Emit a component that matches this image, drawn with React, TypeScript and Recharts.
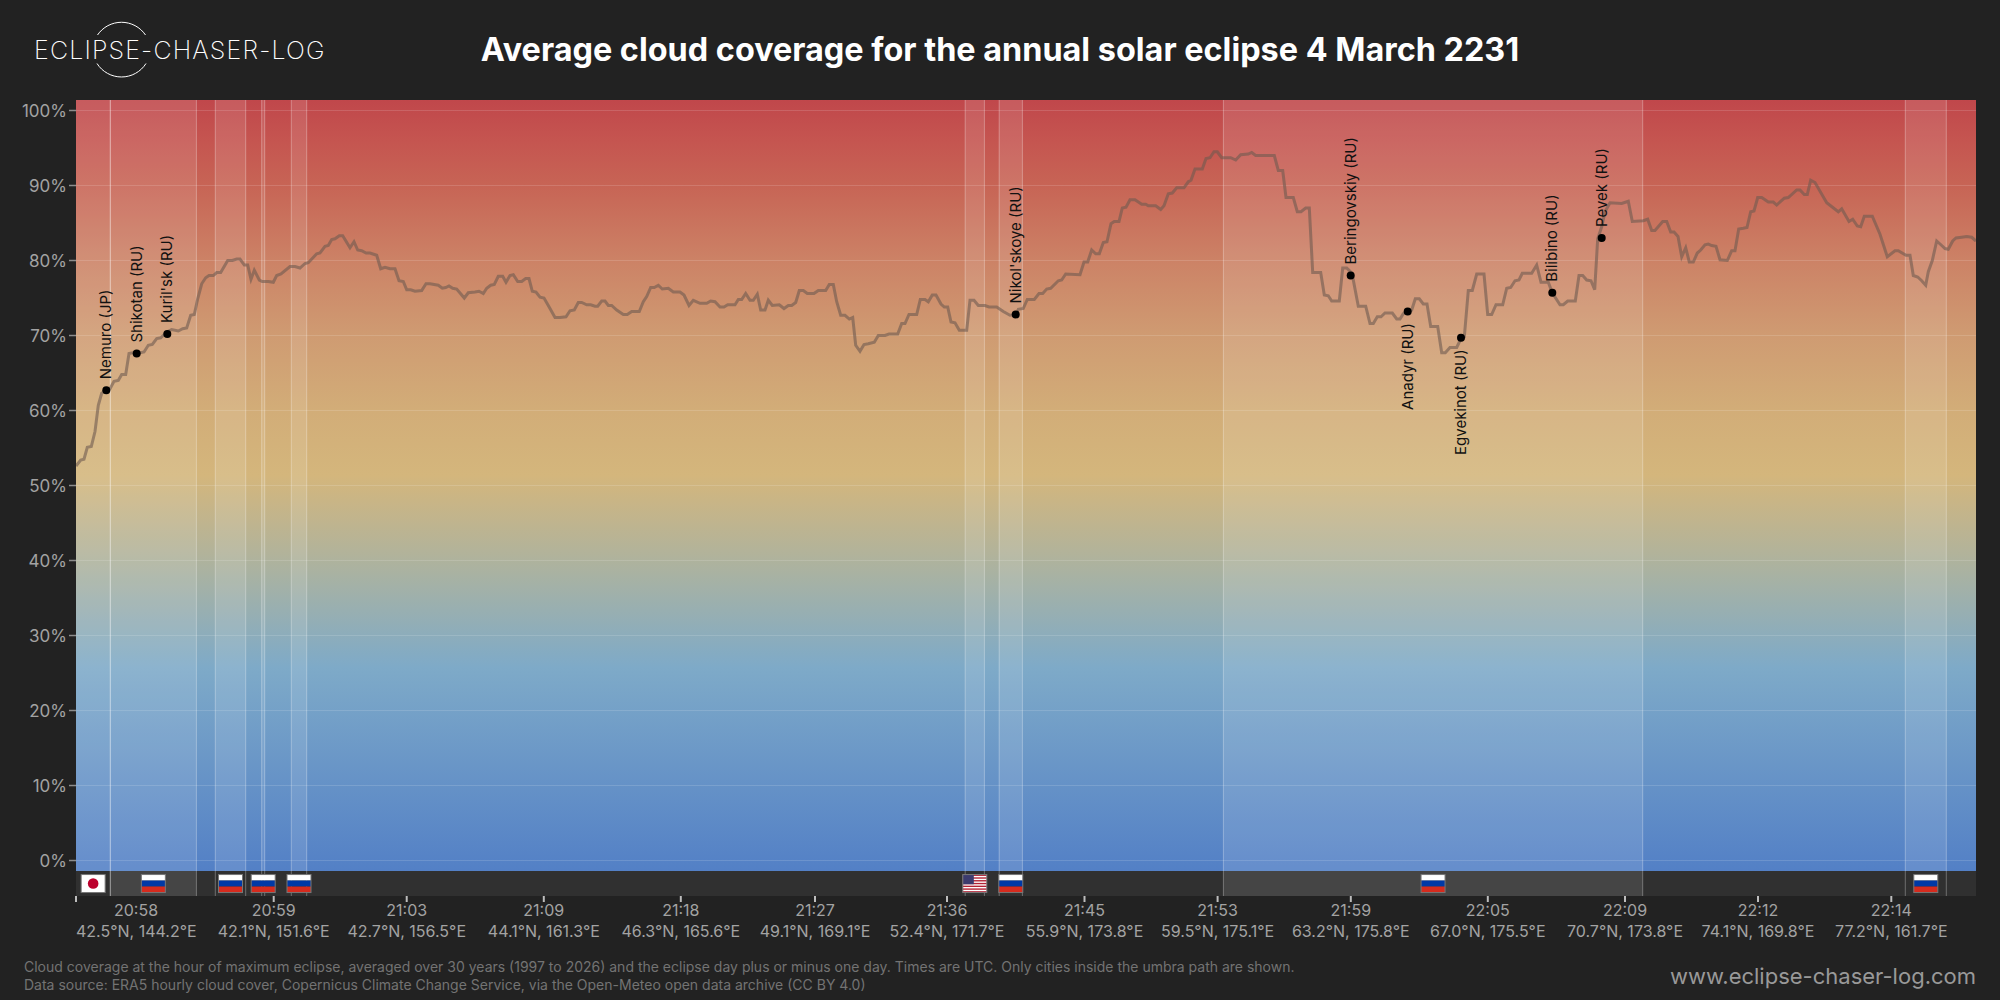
import {
  ComposedChart,
  Line,
  Scatter,
  XAxis,
  YAxis,
  ReferenceArea,
  ReferenceLine,
  ReferenceDot,
} from 'recharts';

const FONT = 'Inter, sans-serif';

// position along the eclipse track (axis units), and the cloud cover read there
const trackPos = [
  0, 4.7, 8, 11.3, 15.3, 19, 22.3, 25.7, 30.3, 34, 38, 42.3, 45.7, 49.7, 53, 56.7, 60.7, 68, 72.3, 76.3,
  80.7, 84.7, 91.3, 95.7, 102.3, 106.7, 110.7, 114.7, 118.3, 121.7, 125.7, 129.7, 133, 137.3, 140.7, 144.7,
  151.7, 156.3, 160.7, 164, 168.3, 171.7, 175, 178.3, 183.3, 186.3, 192.3, 197.3, 200.7, 205, 214, 219,
  224, 229, 232.3, 240.7, 244, 249, 252.3, 255.7, 259, 263.3, 266.7, 274, 278, 281.7, 285.7, 290, 294,
  300.7, 304.7, 309, 314, 319, 323, 327.3, 330.7, 334.7, 339, 345.7, 350, 354, 362.3, 366.3, 369.7, 373,
  376.7, 380.7, 388.3, 392.3, 399, 403, 407.3, 410.7, 414.7, 418.3, 422.3, 426.7, 430, 434, 437.3, 441.7,
  445.7, 449.7, 453, 456.3, 460, 464, 468, 474, 479, 484, 490, 494, 498.3, 502.3, 505.7, 510.7, 514.7,
  519, 521.7, 525.7, 529, 532.3, 535.7, 540.7, 547.3, 551.3, 555.7, 563.3, 567.3, 570.7, 574.7, 578.3,
  582.3, 586.3, 592.3, 597.3, 604, 608, 613, 617.3, 624, 630.7, 634.7, 639, 644, 648, 651.7, 659, 662.3,
  665.7, 669.7, 674, 677.3, 681.3, 684.7, 689, 692.3, 696.3, 703.3, 708, 712.3, 715.7, 719.7, 723.3, 727.3,
  731.3, 738, 742.3, 749.7, 753.3, 757.3, 760.7, 764.7, 769, 773.3, 776.7, 779.7, 784, 788, 792.3, 798.3,
  802.3, 809, 813, 821.7, 825.7, 829, 833, 840.7, 844.3, 849, 852.3, 856.3, 860, 865, 868.3, 871.7, 875,
  879, 883.3, 890.7, 894, 898, 902.3, 909, 913, 920.7, 927.3, 934, 940, 942.3, 947.3, 951.3, 958.3, 963,
  966.7, 970.7, 974.7, 982.3, 985.7, 989.7, 1004, 1008, 1011.7, 1015.7, 1019.7, 1023.3, 1027.3, 1031, 1035,
  1038.3, 1043, 1046.3, 1050, 1054, 1059, 1065.7, 1069.7, 1072.3, 1079.7, 1084.7, 1088, 1092.3, 1096.3,
  1100.7, 1108, 1112.3, 1115, 1119, 1126.3, 1130, 1134, 1138, 1141.3, 1145.7, 1154.7, 1159.7, 1164.7,
  1172.3, 1175.7, 1179.7, 1189.7, 1198.3, 1202.3, 1206.7, 1210, 1217.3, 1221.3, 1225, 1229.7, 1233.3,
  1236.7, 1244.7, 1248.3, 1252.3, 1255.7, 1263.3, 1266.7, 1270.7, 1276, 1282.3, 1289.7, 1294, 1297.3,
  1301.3, 1305, 1309, 1316.3, 1320.7, 1324, 1327.3, 1331.7, 1335.7, 1339.3, 1343.3, 1347.3, 1351, 1354.7,
  1361.7, 1365.7, 1369.3, 1374, 1380.7, 1385, 1388.3, 1392.3, 1396.3, 1400.7, 1408, 1411.7, 1415.7, 1420,
  1426.7, 1430.7, 1434.7, 1439, 1443, 1446.3, 1455.7, 1460.7, 1465, 1472.3, 1476.3, 1484, 1487.3, 1491.7,
  1499.3, 1503, 1506.7, 1510.7, 1515, 1518.7, 1521.7, 1525.7, 1529, 1534, 1545.7, 1552.3, 1556.3, 1567.3,
  1571.7, 1575.7, 1579, 1586.7, 1590.7, 1594.7, 1598, 1602, 1605.7, 1609.7, 1613.3, 1617.3, 1621.3, 1624.7,
  1629, 1632.3, 1635.7, 1640, 1644, 1651.3, 1655.7, 1659, 1662.7, 1667.3, 1671, 1674.7, 1678, 1681.7,
  1685.7, 1692.3, 1697.3, 1700.7, 1708.3, 1712.3, 1720.7, 1724, 1728.3, 1731.3, 1734.7, 1739, 1750.7,
  1762.3, 1765.7, 1773, 1776.7, 1781.3, 1784.7, 1788.3, 1796.3, 1804, 1811.3, 1819, 1822.3, 1830, 1834,
  1837.3, 1841.7, 1845.7, 1849.7, 1852.3, 1856.3, 1860.7, 1865.7, 1869, 1872.3, 1876.7, 1880, 1885.7,
  1890.7, 1895.7, 1900,
];

const cloudCover = [
  52.6, 53.4, 53.5, 55.1, 55.2, 57.2, 60.7, 62.3, 62.7, 62.9, 63.9, 64, 64.8, 64.8, 67.6, 67.7, 67.6, 67.8, 68.7, 68.8,
  69.6, 69.7, 70.5, 70.8, 70.6, 70.9, 71, 72.7, 72.8, 74.9, 76.9, 77.7, 78, 78, 78.4, 78.4,
  80, 80, 80.2, 80.2, 79.4, 79.4, 77.5, 78.7, 77.4, 77.2, 77.2, 77.1, 78, 78.2, 79.2, 79.2,
  79, 79.6, 79.7, 80.9, 81, 81.9, 82, 82.8, 82.9, 83.3, 83.3, 81.7, 82.5, 81.4, 81.3, 81, 81,
  80.7, 78.9, 79.1, 78.9, 78.9, 77.3, 77.2, 76.1, 76.1, 75.9, 76, 76.9, 76.9, 76.7, 76.3, 76.4, 76.6,
  76.3, 76.2, 75, 75.7, 75.8, 75.9, 75.6, 76.3, 76.7, 76.8, 77.9, 77.9, 77.1, 78, 78.1, 77.2,
  77.2, 77.6, 77.6, 75.9, 75.8, 75.1, 75, 73.6, 72.4, 72.4, 72.5, 73.3, 73.4, 74.4, 74.4, 74.1, 74.1,
  73.9, 73.9, 74.6, 74.6, 74, 74, 73.4, 72.8, 72.8, 73.2, 73.2, 74.5, 75.2, 76.4, 76.4,
  76.7, 76.2, 76.3, 75.8, 75.8, 75.4, 74, 74.7, 74.3, 74.3, 74.6, 74.5, 73.8, 73.8, 74.1, 74.1, 74.8,
  74.8, 75.6, 74.7, 74.7, 75.5, 73.4, 73.4, 74.7, 74, 74.1, 73.6, 74, 74, 74.4, 76, 76,
  75.6, 75.6, 76, 76, 76.8, 76.8, 74.5, 72.7, 72.7, 72.2, 72.4, 68.7, 67.9, 68.8, 68.9, 69.1,
  70, 70, 70.2, 70.2, 71.6, 71.6, 72.8, 72.8, 74.8, 74.8, 74.5, 75.4, 75.4, 74.2, 73.8, 73.8, 71.8,
  71.7, 70.7, 70.7, 74.7, 74.7, 74, 74, 73.8, 73.8, 73.2, 72.7, 72.8, 73.5, 73.6, 74.8, 74.8, 75.6,
  75.6, 76.2, 76.3, 77.3, 77.4, 78.2, 78.1, 79.8, 79.8, 81.4, 80.9, 80.9, 82.4, 82.5, 84.9,
  85.2, 85.2, 87, 87.1, 88.1, 88.1, 87.5, 87.5, 87.3, 87.3, 86.8, 87.3, 88.9, 89,
  89.7, 89.7, 90.5, 90.7, 92.2, 92.2, 93.6, 93.7, 94.5, 94.5, 93.7, 93.7, 93.4, 94.1,
  94.2, 94.4, 94, 94, 94, 92, 92, 88.4, 88.4, 86.5, 86.5, 87, 87,
  78.4, 78.4, 75.4, 75.3, 74.6, 74.6, 79, 79, 78.3, 73.9, 73.9, 71.6, 71.6,
  72.5, 72.5, 73, 73, 72.2, 72.2, 72.9, 73.2, 73.4, 74.9, 74.9, 74.2, 74.2, 71.2,
  71.2, 67.7, 67.7, 68.4, 68.4, 69.6, 69.8, 76, 76, 78.2, 78.2, 72.8, 72.8, 74.1,
  74.1, 76.3, 76.4, 77.3, 77.4, 78.3, 78.3, 79.4, 77.1, 77.1, 75.7, 74.1, 74.1, 74.6,
  74.6, 78, 78, 77.4, 77.3, 76.1, 82.9, 84.5, 86.5, 87.7, 87.6, 87.9, 85.2, 85.3,
  85.5, 84, 84, 85.2, 85.2, 83.8, 83.8, 83.2, 80.5, 81.7, 79.8, 79.8, 81, 81.4,
  82.1, 82.2, 82, 81.9, 80.1, 80, 81.3, 81.3, 84.2, 84.3, 84.4, 86.5, 86.6, 88.4,
  88.4, 87.8, 87.8, 87.4, 88.3, 88.4, 89.4, 89.4, 88.8, 88.8, 90.7, 90.4, 87.7,
  86.5, 86.9, 85.2, 85.5, 84.6, 84.5, 85.9, 85.9, 83.5, 80.5, 81.3, 81.3, 80.7, 80.7,
  78, 77.8, 77.3, 76.7, 78.5, 80, 82.6, 82, 81.6, 81.5, 82.6, 83, 83.1,
  83.2, 83.1, 82.6,
];

const cityNames = ['Nemuro (JP)', 'Shikotan (RU)', "Kuril'sk (RU)", "Nikol'skoye (RU)", 'Beringovskiy (RU)', 'Anadyr (RU)', 'Egvekinot (RU)', 'Bilibino (RU)', 'Pevek (RU)'];
const cityPos = [30.3, 60.7, 91.3, 939.7, 1274.7, 1331.7, 1385, 1476.3, 1525.7];
const cityCover = [62.7, 67.6, 70.2, 72.8, 78, 73.2, 69.7, 75.7, 83];
const cityBelow = ['Anadyr (RU)', 'Egvekinot (RU)'];

// stretches of the track over land, with the country shown as a flag
const landStart = [0, 34.3, 139.3, 185.7, 215.3, 889.2, 923.2, 1147.4, 1829.3];
const landEnd = [34.3, 120.4, 169.7, 188.7, 230.7, 908.4, 946.4, 1566.7, 1870.3];
const landFlag = ['JP', 'RU', 'RU', 'RU', 'RU', 'US', 'RU', 'RU', 'RU'];
const longLand = [1, 7];

const tickPos = [0, 197.7, 330.7, 467.8, 604.8, 739, 871, 1008.5, 1141.6, 1274.8, 1411.8, 1549, 1682, 1815.3];
const tickTimes = ['20:58', '20:59', '21:03', '21:09', '21:18', '21:27', '21:36', '21:45', '21:53', '21:59', '22:05', '22:09', '22:12', '22:14'];
const tickCoords = [
  '42.5°N, 144.2°E', '42.1°N, 151.6°E', '42.7°N, 156.5°E', '44.1°N, 161.3°E', '46.3°N, 165.6°E', '49.1°N, 169.1°E', '52.4°N, 171.7°E',
  '55.9°N, 173.8°E', '59.5°N, 175.1°E', '63.2°N, 175.8°E', '67.0°N, 175.5°E', '70.7°N, 173.8°E', '74.1°N, 169.8°E', '77.2°N, 161.7°E',
];
const percentTicks = [0, 10, 20, 30, 40, 50, 60, 70, 80, 90, 100];

const rows = trackPos.map((pos, i) => ({ pos, cover: cloudCover[i] }));
const cityRows = cityNames.map((name, i) => ({ name, pos: cityPos[i], cover: cityCover[i] }));

const PLOT_TOP = 101.4;
const PLOT_BOTTOM = -1.4;
const STRIP_BOTTOM = -4.73;
const FLAG_Y = -3.07;

function XTick({ x, y, index }: any) {
  const first = index === 0;
  return (
    <g fontFamily={FONT} fontSize={16} fill="#a3a3a3" textAnchor={first ? 'start' : 'middle'}>
      <text x={first ? x + 60 : x} y={y + 12} textAnchor="middle">{tickTimes[index]}</text>
      <text x={x} y={y + 33}>{tickCoords[index]}</text>
    </g>
  );
}

function CityMark({ cx, cy, payload }: any) {
  const below = cityBelow.includes(payload.name);
  const ty = below ? cy + 11.5 : cy - 11;
  return (
    <g>
      <circle cx={cx} cy={cy} r={4} fill="#000" />
      <text
        transform={`translate(${cx + 5},${ty}) rotate(-90)`}
        textAnchor={below ? 'end' : 'start'}
        fontFamily={FONT}
        fontSize={15}
        fill="#111"
      >
        {payload.name}
      </text>
    </g>
  );
}

function Flag({ cx, cy, code }: any) {
  const x = cx - 12;
  const y = cy - 9;
  if (code === 'JP') {
    return (
      <g>
        <rect x={x} y={y} width={24} height={18} fill="#fff" stroke="#777" />
        <circle cx={cx} cy={cy} r={5.3} fill="#bc002d" />
      </g>
    );
  }
  if (code === 'US') {
    const stripes = [0, 1, 2, 3, 4, 5, 6, 7, 8, 9, 10, 11, 12];
    return (
      <g>
        <rect x={x} y={y} width={24} height={18} fill="#fff" />
        {stripes.filter((s) => s % 2 === 0).map((s) => (
          <rect key={s} x={x} y={y + (s * 18) / 13} width={24} height={18 / 13} fill="#b22234" />
        ))}
        <rect x={x} y={y} width={11} height={9.7} fill="#3c3b6e" />
        <rect x={x} y={y} width={24} height={18} fill="none" stroke="#777" />
      </g>
    );
  }
  return (
    <g>
      <rect x={x} y={y} width={24} height={6} fill="#fff" />
      <rect x={x} y={y + 6} width={24} height={6} fill="#0039a6" />
      <rect x={x} y={y + 12} width={24} height={6} fill="#d52b1e" />
      <rect x={x} y={y} width={24} height={18} fill="none" stroke="#777" />
    </g>
  );
}

function Logo() {
  return (
    <svg width={340} height={100} style={{ position: 'absolute', left: 0, top: 0 }}>
      <path d="M 97.5 35 A 29 29 0 0 1 145.5 35" fill="none" stroke="#fff" strokeWidth={1} />
      <path d="M 97 63.5 A 29 29 0 0 0 146 63.5" fill="none" stroke="#fff" strokeWidth={1} />
      <text x={34} y={59} fontFamily={FONT} fontWeight={200} fontSize={25} letterSpacing={1.15} fill="#fff">ECLIPSE-CHASER-LOG</text>
    </svg>
  );
}

export default function App() {
  return (
    <div style={{ position: 'absolute', left: 0, top: 0, width: 2000, height: 1000, background: '#222222', overflow: 'hidden' }}>
      <Logo />
      <div style={{ position: 'absolute', left: 0, width: 2000, top: 30, textAlign: 'center', fontFamily: FONT, fontWeight: 700, fontSize: 32.4, lineHeight: '40px', color: '#fff' }}>
        Average cloud coverage for the annual solar eclipse 4 March 2231
      </div>
      <ComposedChart
        width={2000}
        height={1000}
        data={rows}
        margin={{ top: 100, right: 24, bottom: 0, left: 0 }}
        style={{ position: 'absolute', left: 0, top: 0 }}
      >
        <defs>
          <linearGradient id="cloudScale" x1="0" y1="0" x2="0" y2="1">
            <stop offset="0%" stopColor="#c0474b" />
            <stop offset="5.3%" stopColor="#c55550" />
            <stop offset="11%" stopColor="#c76455" />
            <stop offset="20.8%" stopColor="#cc8266" />
            <stop offset="30.5%" stopColor="#cf9b72" />
            <stop offset="40.3%" stopColor="#d2ad78" />
            <stop offset="48.7%" stopColor="#d4b67c" />
            <stop offset="61.7%" stopColor="#a8b2a3" />
            <stop offset="73.6%" stopColor="#7eaac8" />
            <stop offset="100%" stopColor="#5380c6" />
          </linearGradient>
        </defs>
        <XAxis
          dataKey="pos"
          type="number"
          domain={[0, 1900]}
          ticks={tickPos}
          interval={0}
          allowDataOverflow
          height={104}
          axisLine={false}
          tickLine={{ stroke: '#bdbdbd', strokeWidth: 2 }}
          tickSize={6}
          tick={<XTick />}
        />
        <YAxis
          type="number"
          domain={[STRIP_BOTTOM, PLOT_TOP]}
          ticks={percentTicks}
          interval={0}
          allowDataOverflow
          width={76}
          axisLine={false}
          tickLine={{ stroke: '#8c8c8c', strokeWidth: 1.5 }}
          tickSize={7}
          tickFormatter={(v) => `${v}%`}
          tick={{ fill: '#a3a3a3', fontSize: 17, fontFamily: FONT }}
        />
        <ReferenceArea x1={0} x2={1900} y1={PLOT_BOTTOM} y2={PLOT_TOP} fill="url(#cloudScale)" fillOpacity={1} stroke="none" />
        <ReferenceArea x1={0} x2={1900} y1={STRIP_BOTTOM} y2={PLOT_BOTTOM} fill="#303030" fillOpacity={1} stroke="none" />
        {landStart.map((start, i) => (
          <ReferenceArea key={`land-${i}`} x1={start} x2={landEnd[i]} y1={PLOT_BOTTOM} y2={PLOT_TOP} fill="#fff" fillOpacity={0.11} stroke="none" />
        ))}
        {longLand.map((i) => (
          <ReferenceArea key={`strip-${i}`} x1={landStart[i]} x2={landEnd[i]} y1={STRIP_BOTTOM} y2={PLOT_BOTTOM} fill="#fff" fillOpacity={0.1} stroke="none" />
        ))}
        {percentTicks.map((v) => (
          <ReferenceLine key={`grid-${v}`} y={v} stroke="#fff" strokeOpacity={0.14} />
        ))}
        {[...landStart, ...landEnd].filter((v) => v > 0).map((v, i) => (
          <ReferenceLine key={`edge-${i}`} x={v} stroke="#fff" strokeOpacity={0.3} />
        ))}
        <Line
          dataKey="cover"
          type="linear"
          stroke="#6e5a50"
          strokeOpacity={0.6}
          strokeWidth={3}
          dot={false}
          activeDot={false}
          isAnimationActive={false}
        />
        {landFlag.map((code, i) => (
          <ReferenceDot
            key={`flag-${i}`}
            x={(landStart[i] + landEnd[i]) / 2}
            y={FLAG_Y}
            shape={(props: any) => <Flag cx={props.cx} cy={props.cy} code={code} />}
          />
        ))}
        <Scatter data={cityRows} dataKey="cover" shape={<CityMark />} isAnimationActive={false} />
      </ComposedChart>
      <div style={{ position: 'absolute', left: 24, top: 958, fontFamily: FONT, fontSize: 14, lineHeight: '18px', color: '#737373', whiteSpace: 'pre' }}>
        {'Cloud coverage at the hour of maximum eclipse, averaged over 30 years (1997 to 2026) and the eclipse day plus or minus one day. Times are UTC. Only cities inside the umbra path are shown.\nData source: ERA5 hourly cloud cover, Copernicus Climate Change Service, via the Open-Meteo open data archive (CC BY 4.0)'}
      </div>
      <div style={{ position: 'absolute', right: 24, top: 962, fontFamily: FONT, fontSize: 22, lineHeight: '28px', color: '#999999' }}>
        www.eclipse-chaser-log.com
      </div>
    </div>
  );
}
